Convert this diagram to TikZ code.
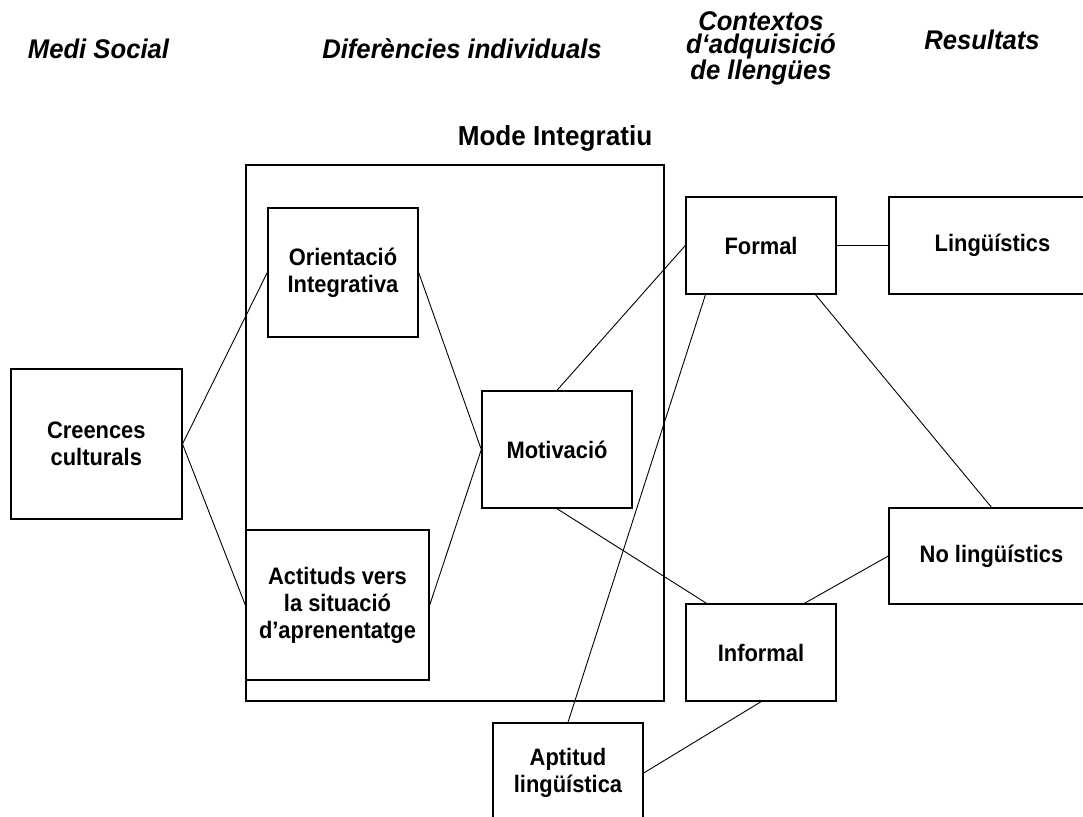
\documentclass[tikz,border=0pt]{standalone}
\usepackage{fontspec}
\setmainfont{Liberation Sans}
\newfontfamily\boxfam{Liberation Sans}[FakeStretch=0.92]
\newfontfamily\headfam{Liberation Sans}[FakeStretch=0.95]
\usetikzlibrary{calc}

\newcommand\boxfont{\boxfam\fontsize{23.8}{27}\selectfont\bfseries}
\newcommand\headfont{\headfam\fontsize{27}{22.5}\selectfont\bfseries\itshape}
\newcommand\titlefont{\headfam\fontsize{27.5}{30}\selectfont\bfseries}

\tikzset{
  box/.style={draw, line width=1.4pt, inner sep=0pt, align=center, font=\boxfont},
  frame/.style={draw, line width=1.4pt, inner sep=0pt},
  link/.style={line width=0.9pt},
  head/.style={inner sep=0pt, align=center, font=\headfont},
}

\begin{document}
\begin{tikzpicture}[x=1pt, y=-1pt]
  \useasboundingbox (0,0) rectangle (1083,816);
  \clip (0,0) rectangle (1083,816);

  % column headings
  \node[head, anchor=base] (hsocial) at (98.5,59) {Medi Social};
  \node[head, anchor=base] (hdiff) at (462,59) {Diferències individuals};
  \node[head, anchor=north] (hctx) at (761,11.5) {Contextos\\d‘adquisició\\de llengües};
  \node[head, anchor=base] (hres) at (982,50) {Resultats};

  % integrative mode frame and its title
  \node[inner sep=0pt, font=\titlefont, anchor=base] (modetitle) at (555,145) {Mode Integratiu};
  \node[frame, minimum width=418pt, minimum height=536pt] (mode) at (455,433) {};

  % boxes
  \node[box, minimum width=171pt, minimum height=150pt] (creences) at (96.3,444) {Creences\\culturals};
  \node[box, minimum width=150pt, minimum height=129pt] (orient) at (343,272.5) {Orientació\\Integrativa};
  \node[box, minimum width=183pt, minimum height=150pt] (actituds) at (337.5,605) {Actituds vers\\la situació\\d’aprenentatge};
  \node[box, minimum width=150pt, minimum height=117pt] (motiv) at (557,449.5) {Motivació};
  \node[box, minimum width=150pt, minimum height=97pt] (formal) at (761,245.5) {Formal};
  \node[box, minimum width=150pt, minimum height=97pt] (informal) at (761,652.5) {Informal};
  \node[box, minimum width=207pt, minimum height=97pt] (ling) at (992.5,245.5) {Lingüístics};
  \node[box, minimum width=205pt, minimum height=96pt] (noling) at (991.5,556) {No lingüístics};
  \node[box, minimum width=150pt, minimum height=100pt] (aptitud) at (568,773) {Aptitud\\lingüística};

  % attachment points along box edges
  \coordinate (formalA) at ($(formal.south west)!0.133!(formal.south east)$);
  \coordinate (formalB) at ($(formal.south west)!0.86!(formal.south east)$);
  \coordinate (informalA) at ($(informal.north west)!0.14!(informal.north east)$);
  \coordinate (informalB) at ($(informal.north west)!0.787!(informal.north east)$);

  % connectors
  \draw[link] (creences.east) -- (orient.west);
  \draw[link] (creences.east) -- (actituds.west);
  \draw[link] (orient.east) -- (motiv.west);
  \draw[link] (actituds.east) -- (motiv.west);
  \draw[link] (motiv.north) -- (formal.west);
  \draw[link] (motiv.south) -- (informalA);
  \draw[link] (formal.east) -- (ling.west);
  \draw[link] (formalB) -- (noling.north);
  \draw[link] (formalA) -- (aptitud.north);
  \draw[link] (informalB) -- (noling.west);
  \draw[link] (informal.south) -- (aptitud.east);
\end{tikzpicture}
\end{document}
